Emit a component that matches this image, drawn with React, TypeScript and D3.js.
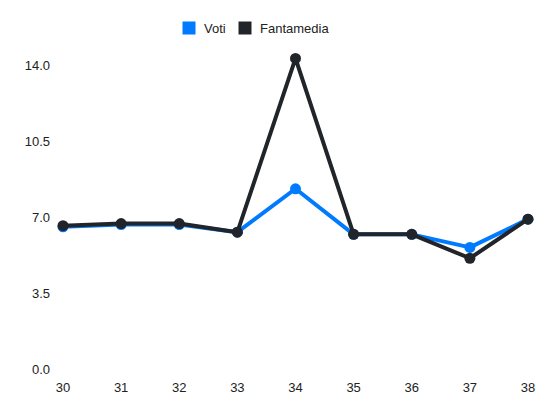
import { useEffect, useRef } from "react";
import * as d3 from "d3";

// Giornate (matchdays) on the x axis
const giornate = [30, 31, 32, 33, 34, 35, 36, 37, 38];
const voti = [6.55, 6.65, 6.65, 6.3, 8.3, 6.2, 6.2, 5.6, 6.9];
const fantamedia = [6.6, 6.7, 6.7, 6.3, 14.3, 6.2, 6.2, 5.1, 6.9];
const yTicks = [0, 3.5, 7, 10.5, 14];

const SERIES = [
  { name: "Voti", values: voti, color: "#007bff" },
  { name: "Fantamedia", values: fantamedia, color: "#212529" },
];

const W = 550;
const H = 412;
const PLOT = { left: 63, right: 528, top: 65, bottom: 369 };

export default function App() {
  const svgRef = useRef<SVGSVGElement>(null);

  useEffect(() => {
    if (!svgRef.current) return;
    const svg = d3.select(svgRef.current);
    svg.selectAll("*").remove();

    const x = d3
      .scaleLinear()
      .domain([giornate[0], giornate[giornate.length - 1]])
      .range([PLOT.left, PLOT.right]);
    const y = d3.scaleLinear().domain([0, 14]).range([PLOT.bottom, PLOT.top]);

    const font = "'Liberation Sans', Arial, sans-serif";

    // y tick labels (no axis line, no grid)
    svg
      .append("g")
      .selectAll("text")
      .data(yTicks)
      .join("text")
      .attr("x", 50)
      .attr("y", (d) => y(d))
      .attr("dy", "0.35em")
      .attr("text-anchor", "end")
      .attr("font-family", font)
      .attr("font-size", 13)
      .attr("fill", "#222")
      .text((d) => d.toFixed(1));

    // x tick labels
    svg
      .append("g")
      .selectAll("text")
      .data(giornate)
      .join("text")
      .attr("x", (d) => x(d))
      .attr("y", 387)
      .attr("dy", "0.35em")
      .attr("text-anchor", "middle")
      .attr("font-family", font)
      .attr("font-size", 13)
      .attr("fill", "#222")
      .text((d) => d);

    const line = d3
      .line<number>()
      .x((_, i) => x(giornate[i]))
      .y((d) => y(d));

    SERIES.forEach((s) => {
      const g = svg.append("g");
      g.append("path")
        .datum(s.values)
        .attr("d", line)
        .attr("fill", "none")
        .attr("stroke", s.color)
        .attr("stroke-width", 4)
        .attr("stroke-linejoin", "round");
      g.selectAll("circle")
        .data(s.values)
        .join("circle")
        .attr("cx", (_, i) => x(giornate[i]))
        .attr("cy", (d) => y(d))
        .attr("r", 5.5)
        .attr("fill", s.color);
    });

    // legend
    const legend = svg.append("g");
    const legendPos = [182, 238];
    SERIES.forEach((s, i) => {
      const lg = legend.append("g").attr("transform", `translate(${legendPos[i]},21)`);
      lg.append("rect")
        .attr("width", 14)
        .attr("height", 14)
        .attr("fill", s.color)
        .attr("stroke", "#fff")
        .attr("stroke-width", 1);
      lg.append("text")
        .attr("x", 22)
        .attr("y", 7)
        .attr("dy", "0.35em")
        .attr("font-family", font)
        .attr("font-size", 13)
        .attr("fill", "#222")
        .text(s.name);
    });
  }, []);

  return (
    <svg
      ref={svgRef}
      width={W}
      height={H}
      style={{ position: "absolute", left: 0, top: 0, background: "#fff" }}
    />
  );
}
